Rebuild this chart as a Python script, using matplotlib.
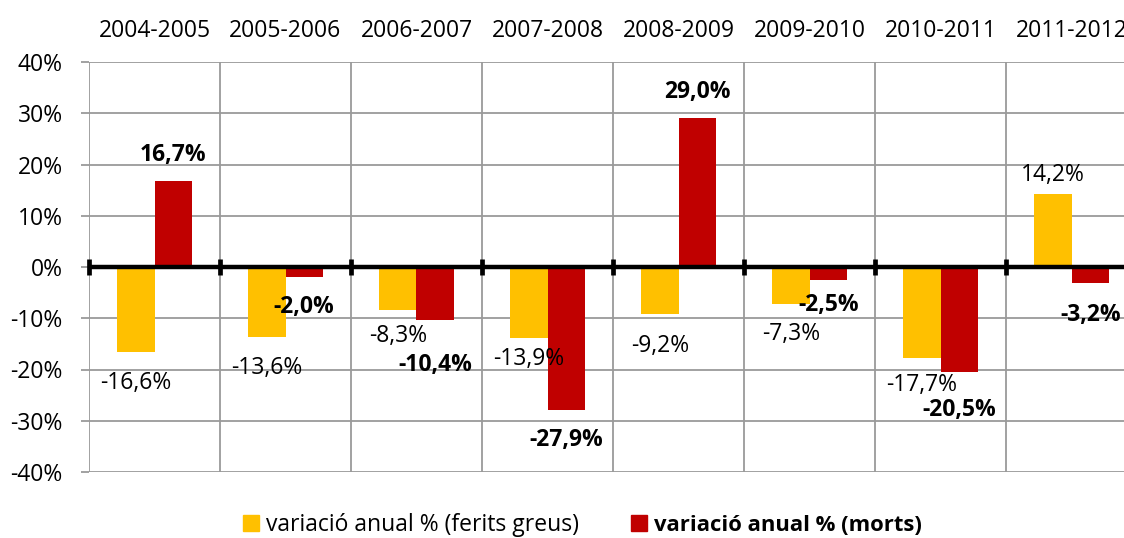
import numpy as np
import matplotlib.pyplot as plt
from matplotlib.lines import Line2D

periods = ["2004-2005", "2005-2006", "2006-2007", "2007-2008",
           "2008-2009", "2009-2010", "2010-2011", "2011-2012"]
ferits = [-16.6, -13.6, -8.3, -13.9, -9.2, -7.3, -17.7, 14.2]
morts = [16.7, -2.0, -10.4, -27.9, 29.0, -2.5, -20.5, -3.2]

# label nudges in pixels (Excel placed them a bit irregularly)
ferits_dy = [31, 31, 26, 21, 32, 30, 27, 19]
morts_dy = [26, 30, 45, 30, 26, 25, 38, 32]

yellow = "#FFC000"
red = "#C00000"
grid = "#9a9a9a"
fs = 16.5

plt.rcParams['font.family'] = ['Open Sans', 'DejaVu Sans']

fig = plt.figure(figsize=(11.24, 5.38), dpi=100)
ax = fig.add_axes([89/1124, 1-472/538, 1048/1124, 410/538])

x = np.arange(len(periods))
w = 0.286
ax.bar(x - w/2, ferits, w, color=yellow, zorder=3)
ax.bar(x + w/2, morts, w, color=red, zorder=3)

ax.set_xlim(-0.5, len(periods) - 0.5)
ax.set_ylim(-40, 40)
ax.set_yticks(np.arange(-40, 41, 10))
ax.set_yticklabels([f"{v}%" for v in range(-40, 41, 10)], fontsize=fs)
ax.tick_params(axis='y', length=6, width=1.3, color=grid, pad=13)

ax.set_xticks(x)
ax.set_xticklabels(periods, fontsize=fs)
ax.xaxis.tick_top()
ax.tick_params(axis='x', length=0, pad=14)

for yv in range(-40, 41, 10):
    ax.axhline(yv, color=grid, lw=1.3, zorder=1)
for b in np.arange(-0.5, len(periods), 1.0):
    ax.axvline(b, color=grid, lw=1.3, zorder=1)
for s in ax.spines.values():
    s.set_visible(False)

# thick zero line with boundary tick marks
ax.axhline(0, color="black", lw=3.2, zorder=4)
for b in np.arange(-0.5, len(periods), 1.0):
    ax.plot([b, b], [-1.6, 1.6], color="black", lw=3.4, zorder=5,
            solid_capstyle='butt', clip_on=False)

def put(xc, v, dy, bold):
    off = dy if v > 0 else -dy
    ax.annotate(f"{v:.1f}%".replace(".", ","), (xc, v), xytext=(0, off * 0.72),
                textcoords="offset points", ha="center", va="center",
                fontsize=fs, fontweight="bold" if bold else "normal", zorder=6)

for i in range(len(periods)):
    put(x[i] - w/2, ferits[i], ferits_dy[i], False)
    put(x[i] + w/2, morts[i], morts_dy[i], True)

handles = [Line2D([], [], marker='s', ls='', color=yellow, markersize=11),
           Line2D([], [], marker='s', ls='', color=red, markersize=11)]
leg = fig.legend(handles, ["variació anual % (ferits greus)", "variació anual % (morts)"],
                 loc="center", bbox_to_anchor=(582/1124, 1-525/538), ncol=2,
                 frameon=False, fontsize=16.5, handletextpad=0.25, columnspacing=2.2,
                 handlelength=0.8, borderpad=0)
leg.get_texts()[1].set_fontweight("bold")
leg.get_texts()[1].set_fontsize(15.8)

fig.savefig("out.png", dpi=100)
